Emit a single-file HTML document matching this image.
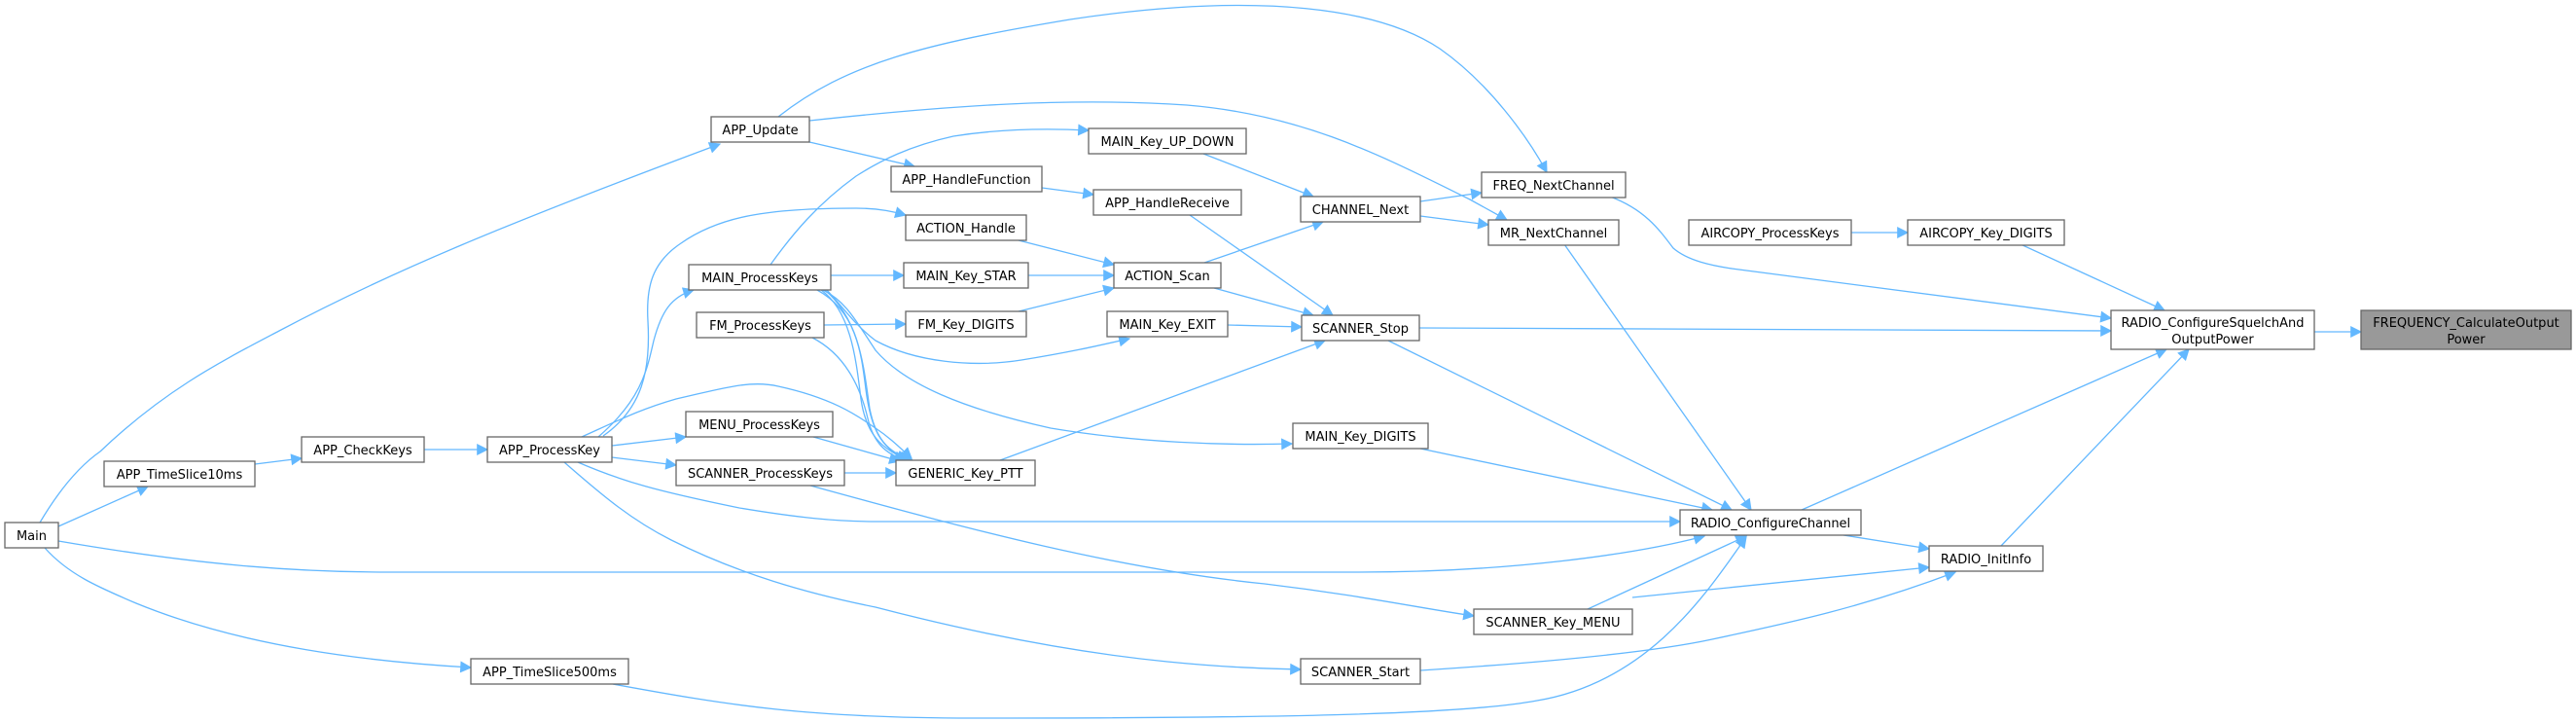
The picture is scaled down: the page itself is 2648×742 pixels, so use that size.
<!DOCTYPE html>
<html><head><meta charset="utf-8"><style>
html,body{margin:0;padding:0;background:#fff;}
svg{display:block;}
text{font-family:"DejaVu Sans","Liberation Sans",sans-serif;font-size:13px;fill:#000;}
.e{fill:none;stroke:#63b8ff;stroke-width:1.3;}
.n{fill:#fff;stroke:#666;stroke-width:1.3;}
</style></head><body>
<svg width="2648" height="742" viewBox="0 0 2648 742" xmlns="http://www.w3.org/2000/svg">
<defs><marker id="a" viewBox="0 0 10 10" refX="9" refY="5" markerWidth="14" markerHeight="12" markerUnits="userSpaceOnUse" orient="auto"><path d="M0,0 L10,5 L0,10 z" fill="#63b8ff"/></marker></defs>
<g class="e" marker-end="url(#a)">
<path d="M41,537 C60,505 80,480 103,464 C170,400 230,370 287,340 C400,280 520,230 740,148"/>
<path d="M60,541 L152,500"/>
<path d="M60,556 C200,580 300,588 400,588 L1397,588 C1550,588 1680,570 1752,551"/>
<path d="M46,563 C70,590 100,603 140,620 C250,665 380,680 484,686"/>
<path d="M262,477 L310,471"/>
<path d="M436,462 L501,462"/>
<path d="M630,703 C750,725 830,738 1000,738 C1300,738 1500,735 1580,720 C1700,700 1760,600 1795,552"/>
<path d="M800,120 C870,65 950,45 1100,20 C1300,-10 1420,10 1480,50 C1530,85 1570,140 1590,177"/>
<path d="M832,124 C980,108 1100,100 1220,108 C1340,118 1420,160 1511,205 L1549,226"/>
<path d="M832,146 L940,171"/>
<path d="M1071,193 L1124,200"/>
<path d="M1223,221 L1370,324"/>
<path d="M1237,158 L1350,202"/>
<path d="M1460,207 L1523,198"/>
<path d="M1460,222 L1530,231"/>
<path d="M1047,247 L1145,272"/>
<path d="M1057,283 L1145,283"/>
<path d="M1047,320 L1145,296"/>
<path d="M1238,270 L1360,228"/>
<path d="M1248,296 L1350,324"/>
<path d="M1262,334 L1338,336"/>
<path d="M1028,473 L1362,350"/>
<path d="M1459,337 L2170,340"/>
<path d="M1427,350 L1780,524"/>
<path d="M1608,251 L1800,524"/>
<path d="M1655,202 C1690,215 1705,235 1720,255 C1735,268 1760,273 1780,276 L2170,327"/>
<path d="M1903,239 L1961,239"/>
<path d="M2077,251 L2225,319"/>
<path d="M2379,341 L2427,341"/>
<path d="M1852,524 L2227,359"/>
<path d="M2057,561 L2250,359"/>
<path d="M1895,550 L1983,564"/>
<path d="M1460,461 L1760,524"/>
<path d="M1632,626 L1795,551"/>
<path d="M1678,614 L1983,583"/>
<path d="M1460,689 C1600,680 1700,670 1760,657 C1840,640 1915,624 2010,588"/>
<path d="M615,449 C660,410 665,380 672,350 C680,320 690,305 713,298"/>
<path d="M629,458 L705,449"/>
<path d="M629,470 L695,478"/>
<path d="M598,449 C640,430 660,420 695,410 C740,400 770,390 800,397 C860,410 885,430 900,440 C915,450 925,460 937,471"/>
<path d="M620,448 C660,420 669,381 666,330 C664,295 670,270 700,250 C740,222 790,214 880,214 C905,214 920,218 931,221"/>
<path d="M792,272 C815,240 840,210 880,181 C905,165 935,150 980,140 C1030,132 1080,132 1119,134"/>
<path d="M854,283 L929,283"/>
<path d="M847,334 L931,333"/>
<path d="M850,298 C870,320 880,335 900,350 C940,372 1000,378 1050,370 C1100,362 1130,355 1161,348"/>
<path d="M846,298 C870,310 880,330 900,360 C930,395 990,420 1080,440 C1170,455 1260,458 1328,456"/>
<path d="M840,298 C880,320 885,360 890,400 C895,440 905,460 932,473"/>
<path d="M844,298 C875,320 880,370 885,410 C890,445 905,462 935,473"/>
<path d="M848,298 C885,330 888,380 894,420 C900,450 912,465 938,473"/>
<path d="M835,347 C870,365 885,400 892,430 C898,455 910,466 930,473"/>
<path d="M836,449 L925,474"/>
<path d="M868,486 L921,486"/>
<path d="M833,499 C1000,545 1150,585 1300,600 C1400,612 1460,625 1515,633"/>
<path d="M594,475 C640,495 677,505 760,522 C820,532 860,536 900,536 L1727,536"/>
<path d="M580,475 C620,510 650,535 690,555 C760,590 830,610 900,624 C1000,650 1100,670 1200,680 C1260,686 1300,687 1337,688"/>
</g>
<g>
<rect class="n" x="731" y="120" width="101" height="26"/><text x="781.5" y="138" text-anchor="middle">APP_Update</text>
<rect class="n" x="708" y="272" width="146" height="26"/><text x="781" y="290" text-anchor="middle">MAIN_ProcessKeys</text>
<rect class="n" x="716" y="321" width="131" height="26"/><text x="781.5" y="339" text-anchor="middle">FM_ProcessKeys</text>
<rect class="n" x="705" y="423" width="151" height="26"/><text x="780.5" y="441" text-anchor="middle">MENU_ProcessKeys</text>
<rect class="n" x="501" y="449" width="128" height="26"/><text x="565" y="467" text-anchor="middle">APP_ProcessKey</text>
<rect class="n" x="695" y="473" width="173" height="26"/><text x="781.5" y="491" text-anchor="middle">SCANNER_ProcessKeys</text>
<rect class="n" x="310" y="449" width="126" height="26"/><text x="373" y="467" text-anchor="middle">APP_CheckKeys</text>
<rect class="n" x="107" y="474" width="155" height="26"/><text x="184.5" y="492" text-anchor="middle">APP_TimeSlice10ms</text>
<rect class="n" x="5" y="537" width="55" height="26"/><text x="32.5" y="555" text-anchor="middle">Main</text>
<rect class="n" x="484" y="677" width="162" height="26"/><text x="565" y="695" text-anchor="middle">APP_TimeSlice500ms</text>
<rect class="n" x="1119" y="132" width="162" height="26"/><text x="1200" y="150" text-anchor="middle">MAIN_Key_UP_DOWN</text>
<rect class="n" x="916" y="171" width="155" height="26"/><text x="993.5" y="189" text-anchor="middle">APP_HandleFunction</text>
<rect class="n" x="1124" y="195" width="152" height="26"/><text x="1200" y="213" text-anchor="middle">APP_HandleReceive</text>
<rect class="n" x="931" y="221" width="124" height="26"/><text x="993" y="239" text-anchor="middle">ACTION_Handle</text>
<rect class="n" x="1337" y="202" width="123" height="26"/><text x="1398.5" y="220" text-anchor="middle">CHANNEL_Next</text>
<rect class="n" x="1523" y="177" width="148" height="26"/><text x="1597" y="195" text-anchor="middle">FREQ_NextChannel</text>
<rect class="n" x="1530" y="226" width="134" height="26"/><text x="1597" y="244" text-anchor="middle">MR_NextChannel</text>
<rect class="n" x="929" y="270" width="128" height="26"/><text x="993" y="288" text-anchor="middle">MAIN_Key_STAR</text>
<rect class="n" x="1145" y="270" width="110" height="26"/><text x="1200" y="288" text-anchor="middle">ACTION_Scan</text>
<rect class="n" x="931" y="320" width="124" height="26"/><text x="993" y="338" text-anchor="middle">FM_Key_DIGITS</text>
<rect class="n" x="1138" y="320" width="124" height="26"/><text x="1200" y="338" text-anchor="middle">MAIN_Key_EXIT</text>
<rect class="n" x="1338" y="324" width="121" height="26"/><text x="1398.5" y="342" text-anchor="middle">SCANNER_Stop</text>
<rect class="n" x="1329" y="435" width="139" height="26"/><text x="1398.5" y="453" text-anchor="middle">MAIN_Key_DIGITS</text>
<rect class="n" x="921" y="473" width="143" height="26"/><text x="992.5" y="491" text-anchor="middle">GENERIC_Key_PTT</text>
<rect class="n" x="1727" y="524" width="186" height="26"/><text x="1820" y="542" text-anchor="middle">RADIO_ConfigureChannel</text>
<rect class="n" x="1515" y="626" width="163" height="26"/><text x="1596.5" y="644" text-anchor="middle">SCANNER_Key_MENU</text>
<rect class="n" x="1337" y="677" width="123" height="26"/><text x="1398.5" y="695" text-anchor="middle">SCANNER_Start</text>
<rect class="n" x="1736" y="226" width="167" height="26"/><text x="1819.5" y="244" text-anchor="middle">AIRCOPY_ProcessKeys</text>
<rect class="n" x="1961" y="226" width="161" height="26"/><text x="2041.5" y="244" text-anchor="middle">AIRCOPY_Key_DIGITS</text>
<rect class="n" x="1983" y="561" width="117" height="26"/><text x="2041.5" y="579" text-anchor="middle">RADIO_InitInfo</text>
<rect class="n" x="2170" y="319" width="209" height="40"/><text x="2274.5" y="336" text-anchor="middle">RADIO_ConfigureSquelchAnd</text><text x="2274.5" y="353" text-anchor="middle">OutputPower</text>
<rect x="2427" y="319" width="216" height="40" fill="#999" stroke="#666" stroke-width="1.3"/><text x="2535" y="336" text-anchor="middle">FREQUENCY_CalculateOutput</text><text x="2535" y="353" text-anchor="middle">Power</text>
</g>
</svg>
</body></html>
